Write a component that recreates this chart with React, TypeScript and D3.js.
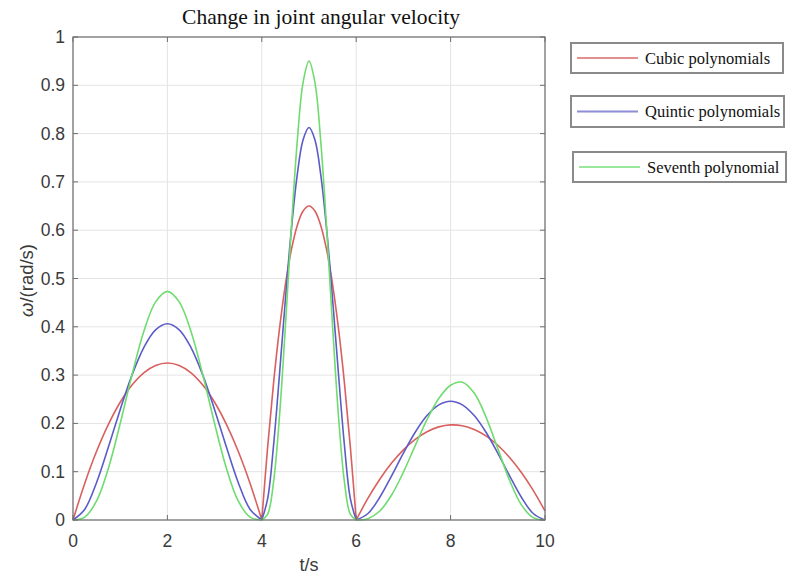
import React from "react";
import * as d3 from "d3";

const W = 795;
const H = 580;

const titleText = "Change in joint angular velocity";
const xLabel = "t/s";
const yLabelSymbol = "ω";
const yLabelRest = "/(rad/s)";

const xTicks = [0, 2, 4, 6, 8, 10];
const yTicks = [0, 0.1, 0.2, 0.3, 0.4, 0.5, 0.6, 0.7, 0.8, 0.9, 1];
const segmentBreaks = [0, 4, 6, 10];

const time = [
  0, 0.25, 0.5, 0.75, 1, 1.25, 1.5, 1.75, 2, 2.25, 2.5, 2.75, 3, 3.25, 3.5, 3.75, 4,
  4.125, 4.25, 4.375, 4.5, 4.625, 4.75, 4.875, 5, 5.125, 5.25, 5.375, 5.5, 5.625, 5.75, 5.875, 6,
  6.25, 6.5, 6.75, 7, 7.25, 7.5, 7.75, 8, 8.25, 8.5, 8.75, 9, 9.25, 9.5, 9.75, 10,
];

const cubic = [
  0, 0.0762, 0.1422, 0.198, 0.2438, 0.2793, 0.3047, 0.3199, 0.325, 0.3199, 0.3047, 0.2793, 0.2438, 0.198, 0.1422, 0.0762, 0,
  0.1523, 0.2844, 0.3961, 0.4875, 0.5586, 0.6094, 0.6398, 0.65, 0.6398, 0.6094, 0.5586, 0.4875, 0.3961, 0.2844, 0.1523, 0,
  0.0451, 0.0844, 0.1178, 0.1453, 0.167, 0.1828, 0.1928, 0.1969, 0.1951, 0.1875, 0.174, 0.1547, 0.1295, 0.0984, 0.0615, 0.0188,
];

const quintic = [
  0, 0.0223, 0.0778, 0.1509, 0.2285, 0.3, 0.3571, 0.3937, 0.4063, 0.3937, 0.3571, 0.3, 0.2285, 0.1509, 0.0778, 0.0223, 0,
  0.0446, 0.1555, 0.3017, 0.457, 0.6001, 0.7141, 0.7873, 0.8125, 0.7873, 0.7141, 0.6001, 0.457, 0.3017, 0.1555, 0.0446, 0,
  0.0135, 0.0471, 0.0914, 0.1384, 0.1817, 0.2162, 0.2384, 0.246, 0.2384, 0.2162, 0.1817, 0.1384, 0.0914, 0.0471, 0.0135, 0,
];

const seventh = [
  0, 0.0061, 0.0396, 0.1071, 0.1997, 0.3005, 0.3901, 0.4516, 0.4734, 0.4516, 0.3901, 0.3005, 0.1997, 0.1071, 0.0396, 0.0061, 0,
  0.0122, 0.0795, 0.215, 0.4008, 0.603, 0.7828, 0.9062, 0.95, 0.9062, 0.7828, 0.603, 0.4008, 0.215, 0.0795, 0.0122, 0,
  0.0028, 0.0187, 0.0517, 0.0991, 0.154, 0.2076, 0.2515, 0.2789, 0.2853, 0.2628, 0.2131, 0.1478, 0.0821, 0.0313, 0.0049, 0,
];

const seriesNames = ["Cubic polynomials", "Quintic polynomials", "Seventh polynomial"];
const seriesColors = ["#d9605e", "#5c5cc8", "#6fdc6f"];
const seriesValues = [cubic, quintic, seventh];

const margin = { left: 73, right: 250, top: 37, bottom: 60 };

export default function App() {
  const x = d3.scaleLinear().domain([0, 10]).range([margin.left, W - margin.right]);
  const y = d3.scaleLinear().domain([0, 1]).range([H - margin.bottom, margin.top]);
  const x0 = x(0), x1 = x(10), y0 = y(0), y1 = y(1);

  const line = d3
    .line<[number, number]>()
    .x((d) => x(d[0]))
    .y((d) => y(d[1]))
    .curve(d3.curveCatmullRom);

  const segments = (vals: number[]) => {
    const out: [number, number][][] = [];
    for (let s = 0; s < segmentBreaks.length - 1; s++) {
      const a = segmentBreaks[s], b = segmentBreaks[s + 1];
      const pts: [number, number][] = [];
      time.forEach((t, i) => {
        if (t >= a && t <= b) pts.push([t, vals[i]]);
      });
      out.push(pts);
    }
    return out;
  };

  const legendBoxes = [
    { x: 571, y: 43, w: 212, h: 30 },
    { x: 571, y: 96, w: 213, h: 31 },
    { x: 573, y: 152, w: 213, h: 30 },
  ];

  const axisColor = "#6e6e6e";
  const tickColor = "#3a3a3a";

  return (
    <svg
      width={W}
      height={H}
      style={{ position: "absolute", left: 0, top: 0, background: "#fff" }}
    >
      <rect x={0} y={0} width={W} height={H} fill="#fff" />
      {/* grid */}
      {xTicks.map((t) => (
        <line key={"gx" + t} x1={x(t)} x2={x(t)} y1={y0} y2={y1} stroke="#e4e4e4" strokeWidth={1} />
      ))}
      {yTicks.map((t) => (
        <line key={"gy" + t} x1={x0} x2={x1} y1={y(t)} y2={y(t)} stroke="#e4e4e4" strokeWidth={1} />
      ))}
      {/* series */}
      {seriesValues.map((vals, si) =>
        segments(vals).map((pts, k) => (
          <path
            key={"s" + si + "_" + k}
            d={line(pts) || ""}
            fill="none"
            stroke={seriesColors[si]}
            strokeWidth={1.6}
          />
        ))
      )}
      {/* axes box */}
      <rect x={x0} y={y1} width={x1 - x0} height={y0 - y1} fill="none" stroke={axisColor} strokeWidth={1.2} />
      {xTicks.map((t) => (
        <g key={"tx" + t}>
          <line x1={x(t)} x2={x(t)} y1={y0} y2={y0 - 5} stroke={axisColor} />
          <line x1={x(t)} x2={x(t)} y1={y1} y2={y1 + 5} stroke={axisColor} />
          <text
            x={x(t)}
            y={y0 + 27}
            textAnchor="middle"
            fontFamily="Liberation Sans, Arial, sans-serif"
            fontSize={17.5}
            fill={tickColor}
          >
            {t}
          </text>
        </g>
      ))}
      {yTicks.map((t) => (
        <g key={"ty" + t}>
          <line x1={x0} x2={x0 + 5} y1={y(t)} y2={y(t)} stroke={axisColor} />
          <line x1={x1} x2={x1 - 5} y1={y(t)} y2={y(t)} stroke={axisColor} />
          <text
            x={x0 - 8}
            y={y(t) + 6}
            textAnchor="end"
            fontFamily="Liberation Sans, Arial, sans-serif"
            fontSize={17.5}
            fill={tickColor}
          >
            {d3.format("~g")(t)}
          </text>
        </g>
      ))}
      {/* labels */}
      <text
        x={321}
        y={24}
        textAnchor="middle"
        fontFamily="Liberation Serif, Times New Roman, serif"
        fontSize={21}
        textLength={278}
        lengthAdjust="spacingAndGlyphs"
        fill="#111"
      >
        {titleText}
      </text>
      <text
        x={(x0 + x1) / 2}
        y={571}
        textAnchor="middle"
        fontFamily="Liberation Sans, Arial, sans-serif"
        fontSize={18}
        fill={tickColor}
      >
        {xLabel}
      </text>
      <text
        transform={`translate(33, ${(y0 + y1) / 2 + 2}) rotate(-90)`}
        textAnchor="middle"
        fontFamily="Liberation Sans, Arial, sans-serif"
        fontSize={18.5}
        fill={tickColor}
      >
        <tspan fontStyle="italic">{yLabelSymbol}</tspan>
        <tspan>{yLabelRest}</tspan>
      </text>
      {/* legend */}
      {legendBoxes.map((b, i) => (
        <g key={"lg" + i}>
          <rect x={b.x} y={b.y} width={b.w} height={b.h} fill="#fff" stroke="#8a8a8a" strokeWidth={2} />
          <line
            x1={b.x + 6}
            x2={b.x + 67}
            y1={b.y + b.h / 2}
            y2={b.y + b.h / 2}
            stroke={seriesColors[i]}
            strokeOpacity={0.7}
            strokeWidth={1.8}
          />
          <text
            x={b.x + 74}
            y={b.y + b.h / 2 + 5.5}
            fontFamily="Liberation Serif, Times New Roman, serif"
            fontSize={16.5}
            fill="#111"
          >
            {seriesNames[i]}
          </text>
        </g>
      ))}
    </svg>
  );
}
